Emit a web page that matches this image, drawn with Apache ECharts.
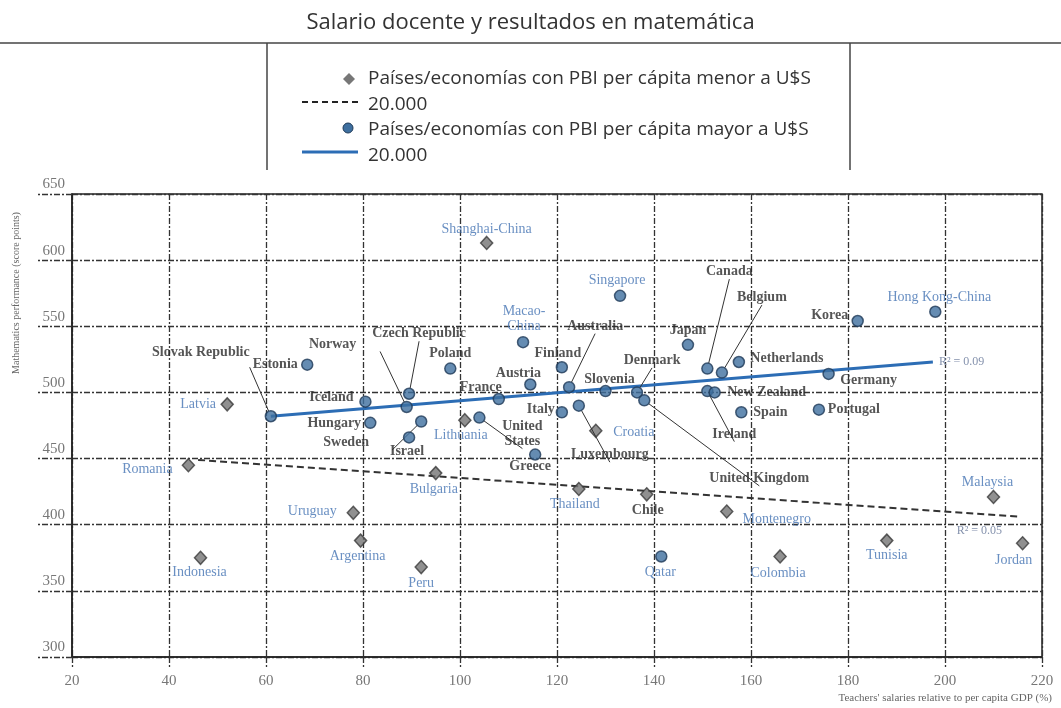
<!DOCTYPE html>
<html>
<head>
<meta charset="utf-8">
<script src="https://cdn.jsdelivr.net/npm/echarts@6/dist/echarts.min.js"></script>
<style>
    html, body {margin: 0; padding: 0; background: #fff;}
    #chart {width: 1061px; height: 708px;}
</style>
</head>
<body>
<div id="chart"></div>
<script>
// countries with GDP per capita below 20 000 (diamonds)
var lowNames = ['Shanghai-China', 'Latvia', 'Romania', 'Uruguay', 'Argentina', 'Indonesia', 'Peru', 'Bulgaria',
    'Lithuania', 'Croatia', 'Thailand', 'Chile', 'Montenegro', 'Colombia', 'Tunisia', 'Malaysia', 'Jordan'];
var lowSalary = [105.5, 52, 44, 78, 79.5, 46.5, 92, 95, 101, 128, 124.5, 138.5, 155, 166, 188, 210, 216];
var lowMath = [613, 491, 445, 409, 388, 375, 368, 439, 479, 471, 427, 423, 410, 376, 388, 421, 386];

// countries with GDP per capita above 20 000 (circles)
var highNames = ['Singapore', 'Macao-China', 'Hong Kong-China', 'Korea', 'Japan', 'Canada', 'Belgium', 'Netherlands',
    'Germany', 'Ireland', 'New Zealand', 'Spain', 'Portugal', 'Denmark', 'United Kingdom', 'Slovenia', 'Australia',
    'Finland', 'Austria', 'France', 'Italy', 'Luxembourg', 'Greece', 'United States', 'Israel', 'Sweden', 'Hungary',
    'Iceland', 'Norway', 'Czech Republic', 'Poland', 'Estonia', 'Slovak Republic', 'Qatar'];
var highSalary = [133, 113, 198, 182, 147, 151, 154, 157.5, 176, 151, 152.5, 158, 174, 136.5, 138, 130, 122.5,
    121, 114.5, 108, 121, 124.5, 115.5, 104, 89.5, 92, 81.5, 80.5, 89, 89.5, 98, 68.5, 61, 141.5];
var highMath = [573, 538, 561, 554, 536, 518, 515, 523, 514, 501, 500, 485, 487, 500, 494, 501, 504,
    519, 506, 495, 485, 490, 453, 481, 466, 478, 477, 493, 489, 499, 518, 521, 482, 376];

// trend lines
var trendHighX = [61, 197.5];
var trendHighY = [482, 523];
var trendLowX = [46, 215.6];
var trendLowY = [449, 406];

// partner economies get blue labels
var partners = ['Shanghai-China', 'Latvia', 'Romania', 'Uruguay', 'Argentina', 'Indonesia', 'Peru', 'Bulgaria',
    'Lithuania', 'Croatia', 'Thailand', 'Montenegro', 'Colombia', 'Tunisia', 'Malaysia', 'Jordan',
    'Singapore', 'Macao-China', 'Hong Kong-China', 'Qatar'];

var labelText = {'Macao-China': 'Macao-\nChina', 'United States': 'United\nStates'};

// label centre offset from the point [dx, dy, leader line]
var labelPlace = {
    'Shanghai-China': [0, -14], 'Latvia': [-29, 0], 'Romania': [-41, 4], 'Uruguay': [-41, -1],
    'Argentina': [-3, 16], 'Indonesia': [-1, 15], 'Peru': [0, 16], 'Bulgaria': [-2, 16],
    'Lithuania': [-4, 15], 'Croatia': [38, 2], 'Thailand': [-4, 15], 'Chile': [1, 16],
    'Montenegro': [50, 8], 'Colombia': [-2, 17], 'Tunisia': [0, 15], 'Malaysia': [-6, -15], 'Jordan': [-9, 17],
    'Singapore': [-3, -16], 'Macao-China': [1, -23], 'Hong Kong-China': [4, -14], 'Korea': [-28, -6],
    'Japan': [0, -14], 'Canada': [22, -97, 1], 'Belgium': [40, -75, 1], 'Netherlands': [48, -4],
    'Germany': [40, 6], 'Ireland': [27, 43, 1], 'New Zealand': [52, 0], 'Spain': [29, 0], 'Portugal': [35, 0],
    'Denmark': [15, -32, 1], 'United Kingdom': [115, 78, 1], 'Slovenia': [4, -12], 'Australia': [26, -61, 1],
    'Finland': [-4, -14], 'Austria': [-12, -11], 'France': [-18, -12], 'Italy': [-21, -3],
    'Luxembourg': [31, 49, 1], 'Greece': [-5, 12], 'United States': [43, 16, 1], 'Israel': [-2, 14],
    'Sweden': [-75, 21, 1], 'Hungary': [-36, 1], 'Iceland': [-34, -4], 'Norway': [-74, -63, 1],
    'Czech Republic': [10, -60, 1], 'Poland': [0, -15], 'Estonia': [-32, 0], 'Slovak Republic': [-70, -64, 1],
    'Qatar': [-1, 16]
};

function makeItems(names, xs, ys) {
    return names.map(function (n, i) {
        var p = labelPlace[n] || [0, -14];
        var blue = partners.indexOf(n) >= 0;
        return {
            name: n,
            value: [xs[i], ys[i]],
            label: {
                offset: [p[0], p[1]],
                color: blue ? '#4373b3' : '#2b2b2b',
                fontWeight: blue ? 'normal' : 'bold'
            },
            labelLine: {show: !!p[2]}
        };
    });
}

function pairs(xs, ys) {
    return xs.map(function (x, i) {
        return [x, ys[i]];
    });
}

var pointLabel = {
    show: true,
    position: 'inside',
    fontFamily: 'Liberation Serif',
    fontSize: 14,
    lineHeight: 15,
    formatter: function (p) {
        return labelText[p.name] || p.name;
    }
};

var gridLine = {color: '#333', width: 1.3, type: [6, 2, 2, 2]};

var myChart = echarts.init(document.getElementById('chart'));
myChart.setOption({
    backgroundColor: '#fff',
    animation: false,
    title: {
        text: 'Salario docente y resultados en matemática',
        left: 'center',
        top: 7,
        textStyle: {fontFamily: 'Open Sans', fontSize: 22, fontWeight: 'normal', color: '#333'}
    },
    grid: {
        left: 72, right: 19, top: 194, bottom: 51,
        show: true, borderColor: '#222', borderWidth: 1.5
    },
    xAxis: {
        type: 'value',
        min: 20,
        max: 220,
        interval: 20,
        axisLine: {show: true, lineStyle: {color: '#222', width: 1.5}},
        axisTick: {show: true, length: 10, lineStyle: gridLine},
        axisLabel: {margin: 17, color: '#777', fontFamily: 'Liberation Serif', fontSize: 15},
        splitLine: {show: true, lineStyle: gridLine}
    },
    yAxis: {
        type: 'value',
        min: 300,
        max: 650,
        interval: 50,
        axisLine: {show: true, lineStyle: {color: '#222', width: 1.5}},
        axisTick: {show: true, length: 36, lineStyle: gridLine},
        axisLabel: {
            margin: 7, color: '#777', fontFamily: 'Liberation Serif', fontSize: 15,
            verticalAlign: 'bottom', padding: [0, 0, 2, 0]
        },
        splitLine: {show: true, lineStyle: gridLine}
    },
    series: [
        {
            type: 'line',
            data: pairs(trendLowX, trendLowY),
            symbol: 'none',
            lineStyle: {color: '#333', width: 2, type: [7, 4]},
            endLabel: {
                show: true, formatter: 'R² = 0.05', color: '#8592ad', fontFamily: 'Liberation Serif',
                fontSize: 12, offset: [-72, 14]
            },
            z: 3
        },
        {
            type: 'line',
            data: pairs(trendHighX, trendHighY),
            symbol: 'none',
            lineStyle: {color: '#2c6db5', width: 3},
            endLabel: {
                show: true, formatter: 'R² = 0.09', color: '#8592ad', fontFamily: 'Liberation Serif',
                fontSize: 12, distance: 6
            },
            z: 3
        },
        {
            name: 'menor',
            type: 'scatter',
            symbol: 'diamond',
            symbolSize: [12, 13],
            itemStyle: {color: '#747474', borderColor: '#3a3a3a', borderWidth: 1.5},
            label: pointLabel,
            labelLine: {lineStyle: {color: '#333', width: 1}},
            data: makeItems(lowNames, lowSalary, lowMath),
            z: 4
        },
        {
            name: 'mayor',
            type: 'scatter',
            symbol: 'circle',
            symbolSize: 11,
            itemStyle: {color: '#3e6f9f', borderColor: '#1f3a58', borderWidth: 1.5},
            label: pointLabel,
            labelLine: {lineStyle: {color: '#333', width: 1}},
            data: makeItems(highNames, highSalary, highMath),
            z: 5
        }
    ],
    graphic: [
        {type: 'line', shape: {x1: 0, y1: 43, x2: 1061, y2: 43}, style: {stroke: '#444', lineWidth: 1.5}},
        {type: 'line', shape: {x1: 267, y1: 43, x2: 267, y2: 170}, style: {stroke: '#444', lineWidth: 1.5}},
        {type: 'line', shape: {x1: 850, y1: 43, x2: 850, y2: 170}, style: {stroke: '#444', lineWidth: 1.5}},
        {type: 'polygon', shape: {points: [[349, 73], [355, 79], [349, 85], [343, 79]]}, style: {fill: '#777'}},
        {type: 'circle', shape: {cx: 348, cy: 128, r: 5}, style: {fill: '#3e6f9f', stroke: '#1f3a58', lineWidth: 1}},
        {type: 'line', shape: {x1: 302, y1: 102, x2: 358, y2: 102}, style: {stroke: '#222', lineWidth: 2, lineDash: [6, 4]}},
        {type: 'line', shape: {x1: 302, y1: 152, x2: 358, y2: 152}, style: {stroke: '#2c6db5', lineWidth: 3}},
        {
            type: 'text', left: 368, top: 66,
            style: {
                text: 'Países/economías con PBI per cápita menor a U$S\n20.000',
                font: '19px "Open Sans"', fill: '#333', lineHeight: 26
            }
        },
        {
            type: 'text', left: 368, top: 117,
            style: {
                text: 'Países/economías con PBI per cápita mayor a U$S\n20.000',
                font: '19px "Open Sans"', fill: '#333', lineHeight: 26
            }
        },
        {
            type: 'text', x: 16, y: 293, rotation: Math.PI / 2,
            style: {
                text: 'Mathematics performance (score points)', font: '10px "Liberation Serif"',
                fill: '#666', align: 'center', verticalAlign: 'middle'
            }
        },
        {
            type: 'text', x: 1052, y: 698,
            style: {
                text: "Teachers' salaries relative to per capita GDP (%)", font: '11px "Liberation Serif"',
                fill: '#666', align: 'right', verticalAlign: 'middle'
            }
        }
    ]
});
</script>
</body>
</html>
